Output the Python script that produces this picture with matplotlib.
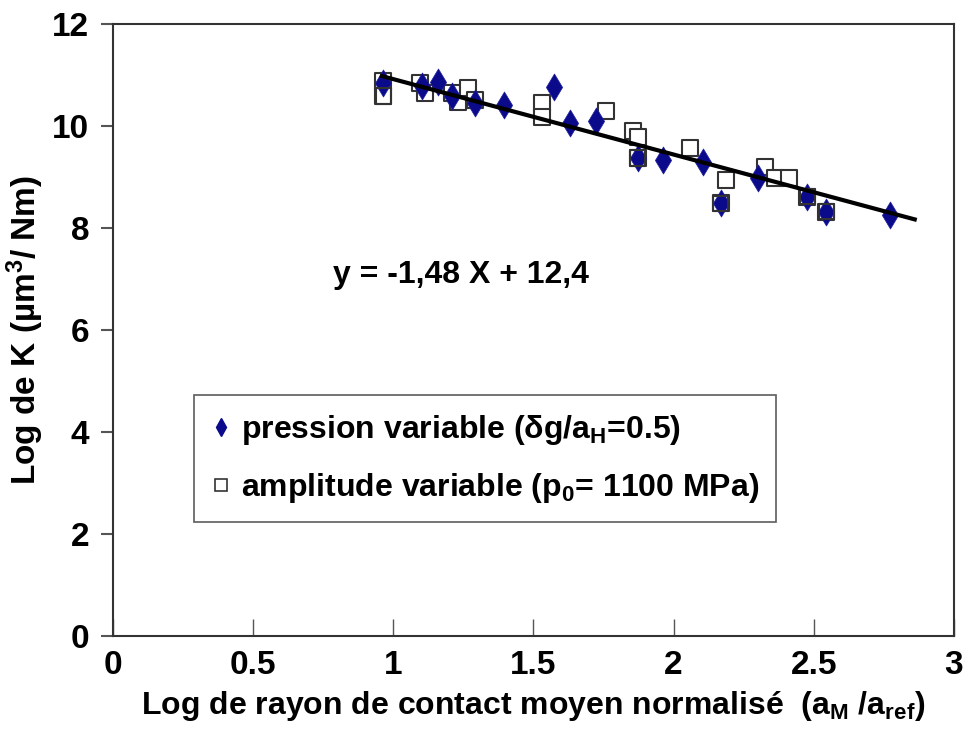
import matplotlib
matplotlib.use("Agg")
import matplotlib.pyplot as plt
from matplotlib import font_manager
from matplotlib.lines import Line2D
import numpy as np

# ---- data ----
pression_x = [0.965, 1.102, 1.161, 1.209, 1.292, 1.395, 1.575, 1.631, 1.722, 1.872,
              1.961, 2.104, 2.168, 2.302, 2.477, 2.544, 2.772]
pression_y = [10.84, 10.78, 10.87, 10.59, 10.46, 10.41, 10.77, 10.05, 10.10, 9.37,
              9.33, 9.30, 8.48, 8.97, 8.61, 8.32, 8.25]

amplitude_x = [0.965, 0.965, 1.096, 1.114, 1.209, 1.233, 1.268, 1.292, 1.532, 1.532,
               1.759, 1.854, 1.872, 1.872, 2.059, 2.168, 2.187, 2.326, 2.362, 2.410,
               2.477, 2.544]
amplitude_y = [10.89, 10.59, 10.84, 10.65, 10.64, 10.48, 10.74, 10.51, 10.46, 10.18,
               10.30, 9.91, 9.78, 9.37, 9.56, 8.48, 8.95, 9.20, 8.97, 8.97,
               8.61, 8.32]

fit_slope = -1.48
fit_intercept = 12.4
fit_range = [0.96, 2.86]

x_ticks = [0, 0.5, 1, 1.5, 2, 2.5, 3]
x_ticklabels = ["0", "0.5", "1", "1.5", "2", "2.5", "3"]
y_ticks = [0, 2, 4, 6, 8, 10, 12]

# ---- fonts ----
avail = {f.name for f in font_manager.fontManager.ttflist}
fam = "Liberation Sans Narrow" if "Liberation Sans Narrow" in avail else "Liberation Sans"
plt.rcParams["font.family"] = [fam, "DejaVu Sans"]
plt.rcParams["mathtext.fontset"] = "custom"
plt.rcParams["mathtext.rm"] = fam + ":bold"
plt.rcParams["mathtext.it"] = fam + ":bold"
plt.rcParams["mathtext.bf"] = fam + ":bold"

fig = plt.figure(figsize=(9.65, 7.37), dpi=100)
ax = fig.add_axes([0.1168, 0.1374, 0.8718, 0.83])

ax.scatter(amplitude_x, amplitude_y, marker="s", s=120, facecolors="white",
           edgecolors="#333333", linewidths=1.5, zorder=2)
ax.scatter(pression_x, pression_y, marker="d", s=190, color="#0a0a8a",
           edgecolors="#2020a0", linewidths=0.5, zorder=3)
over = [i for i, x in enumerate(amplitude_x) if x in pression_x and amplitude_y[i] in pression_y]
ax.scatter([amplitude_x[i] for i in over], [amplitude_y[i] for i in over], marker="s",
           s=120, facecolors="none", edgecolors="#333333", linewidths=1.5, zorder=4)

fx = np.array(fit_range)
ax.plot(fx, fit_slope * fx + fit_intercept, color="black", lw=3, zorder=5)

ax.set_xlim(0, 3)
ax.set_ylim(0, 12)
ax.set_xticks(x_ticks)
ax.set_xticklabels(x_ticklabels)
ax.set_yticks(y_ticks)
ax.tick_params(axis="x", direction="in", length=12, width=1, color="#555555",
               labelsize=24, pad=10)
ax.tick_params(axis="y", direction="out", length=9, width=1.5, color="#555555",
               labelsize=24, pad=8)
for lab in ax.get_xticklabels() + ax.get_yticklabels():
    lab.set_fontweight("bold")
for s in ax.spines.values():
    s.set_color("#333333")
    s.set_linewidth(1.5)

ax.set_xlabel(r"Log de rayon de contact moyen normalisé  (a$_{\mathregular{M}}$ /a$_{\mathregular{ref}}$)",
              fontsize=23, fontweight="bold", labelpad=6)
ax.set_ylabel(r"Log de K (µm$^{\mathregular{3}}$/ Nm)", fontsize=24, fontweight="bold", labelpad=4)

ax.text(1.24, 7.08, "y = -1,48 X + 12,4", fontsize=23, fontweight="bold",
        ha="center", va="center")

handles = [
    Line2D([], [], marker="d", ls="none", color="#0a0a8a", markersize=9),
    Line2D([], [], marker="s", ls="none", markerfacecolor="white",
           markeredgecolor="#333333", markersize=8, markeredgewidth=1.2),
]
labels = [r"pression variable ($\mathregular{\delta}$g/a$_{\mathregular{H}}$=0.5)",
          r"amplitude variable (p$_{\mathregular{0}}$= 1100 MPa)"]
leg = ax.legend(handles, labels, loc="upper left", bbox_to_anchor=(0.097, 0.393),
                frameon=True, fancybox=False, edgecolor="#333333",
                prop={"weight": "bold", "size": 23, "family": [fam, "DejaVu Sans"]},
                handletextpad=0.3, handlelength=0.6, borderpad=0.55, labelspacing=0.75,
                borderaxespad=0)
leg.get_frame().set_linewidth(1.2)

fig.savefig("out.png", dpi=100)
